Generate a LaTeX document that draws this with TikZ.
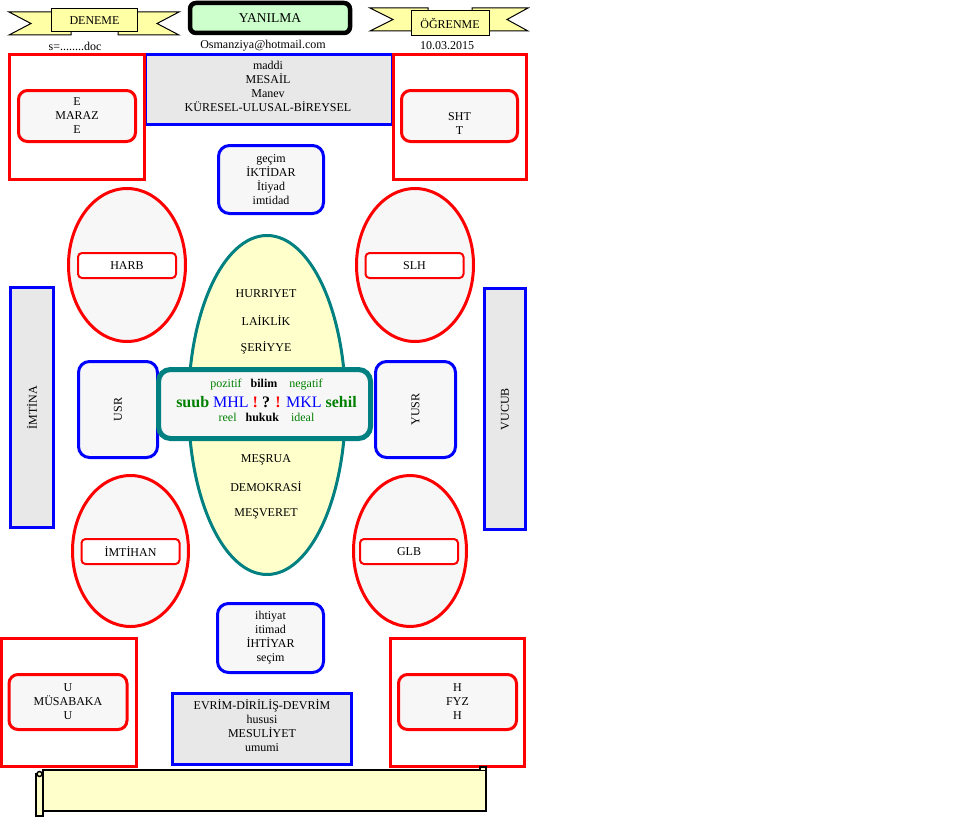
\documentclass[tikz,border=0pt]{standalone}
\usepackage{fontspec}
\setmainfont{Liberation Serif}
\usetikzlibrary{shapes.geometric}
\definecolor{boxgray}{HTML}{F7F7F7}
\definecolor{panelgray}{HTML}{E8E8E8}
\definecolor{paleyellow}{HTML}{FFFFCC}
\definecolor{ribbonyellow}{HTML}{FFFFA6}
\definecolor{palegreen}{HTML}{CCFFCC}
\definecolor{tealline}{HTML}{008080}
\definecolor{darkgreen}{HTML}{008000}

\begin{document}
\begin{tikzpicture}[x=1pt,y=-1pt,
        every node/.style={font=\fontsize{12}{14}\selectfont, inner sep=0pt, align=center},
        ribbon/.style={draw, line width=1pt, fill=ribbonyellow},
        redframe/.style={draw=red, line width=3pt, fill=white},
        redbox/.style={draw=red, line width=3pt, rounded corners=9pt, fill=boxgray},
        bluebox/.style={draw=blue, line width=3pt, rounded corners=11pt, fill=boxgray},
        panel/.style={draw=blue, line width=3pt, fill=panelgray},
        oval/.style={ellipse, draw=red, line width=3pt, fill=boxgray},
        tag/.style={draw=red, line width=2pt, rounded corners=4pt, fill=white,
            minimum width=98pt, minimum height=25pt},
        scroll/.style={draw, line width=1.5pt, fill=paleyellow}
    ]
    \useasboundingbox (0,0) rectangle (960,816);

    % header ribbons
    \draw[ribbon] (9,12) -- (71,12) -- (71,35) -- (9,35) -- (31,23.5) -- cycle;
    \draw[ribbon] (179,12) -- (118,12) -- (118,35) -- (179,35) -- (157,23.5) -- cycle;
    \node[ribbon, minimum width=86pt, minimum height=23pt] (deneme) at (94.5,20.5) {DENEME};

    \draw[ribbon] (370,8) -- (428,8) -- (428,31) -- (370,31) -- (393,19.5) -- cycle;
    \draw[ribbon] (528,8) -- (472,8) -- (472,31) -- (528,31) -- (507,19.5) -- cycle;
    \node[ribbon, minimum width=78pt, minimum height=25pt] (ogrenme) at (450,23.5) {ÖĞRENME};

    \node[draw, line width=4.5pt, rounded corners=6pt, fill=palegreen,
        minimum width=160pt, minimum height=30pt, font=\fontsize{13.5}{15}\selectfont]
        (yanilma) at (270,18) {YANILMA};

    \node (dosya) at (75,46) {s=........doc};
    \node (eposta) at (263,46) {Osmanziya@hotmail.com};
    \node (tarih) at (447,46) {10.03.2015};

    % upper row
    \node[panel, minimum width=247pt, minimum height=70pt] (mesail) at (269,89.5) {};
    \node (mesaillbl) at (268,86) {maddi\\MESAİL\\Manev\\KÜRESEL-ULUSAL-BİREYSEL};
    \node[redframe, minimum width=135pt, minimum height=125pt] (solust) at (77,117) {};
    \node[redbox, minimum width=117pt, minimum height=51pt] (maraz) at (77,116) {E\\MARAZ\\E};
    \node[redframe, minimum width=133pt, minimum height=125pt] (sagust) at (460,117) {};
    \node[redbox, minimum width=116pt, minimum height=51pt] (sht) at (459.5,116) {};
    \node (shtlbl) at (459.5,124) {SHT\\T};

    \node[bluebox, minimum width=105pt, minimum height=68pt] (iktidar) at (271,179.5)
        {geçim\\İKTİDAR\\İtiyad\\imtidad};

    % ovals
    \node[oval, minimum width=117pt, minimum height=153pt] (harbov) at (127,265) {};
    \node[tag] (harb) at (127,265.5) {HARB};
    \node[oval, minimum width=117pt, minimum height=153pt] (slhov) at (415,265) {};
    \node[tag] (slh) at (414.5,265.5) {SLH};
    \node[oval, minimum width=116pt, minimum height=151pt] (imtihanov) at (130.5,551) {};
    \node[tag] (imtihan) at (130.5,551.5) {İMTİHAN};
    \node[oval, minimum width=113pt, minimum height=151pt] (glbov) at (410,551) {};
    \node[tag] (glb) at (409,551.5) {GLB};

    % core
    \node[ellipse, draw=tealline, line width=3pt, fill=paleyellow,
        minimum width=157pt, minimum height=339pt] (core) at (267,405) {};
    \node (hurriyet) at (266,294) {HURRIYET};
    \node (laiklik) at (266,321) {LAİKLİK};
    \node (seriyye) at (266,348) {ŞERİYYE};
    \node (mesrua) at (266,460) {MEŞRUA};
    \node (demokrasi) at (266,487) {DEMOKRASİ};
    \node (mesveret) at (266,514) {MEŞVERET};

    % side boxes
    \node[panel, minimum width=43pt, minimum height=240pt] (imtina) at (32,407.5) {};
    \node[rotate=90] (imtinalbl) at (32,407.5) {İMTİNA};
    \node[panel, minimum width=41pt, minimum height=241pt] (vucub) at (505,409) {};
    \node[rotate=90] (vucublbl) at (505,409) {VUCUB};
    \node[bluebox, minimum width=79pt, minimum height=96pt] (usr) at (118,409.5) {};
    \node[rotate=90] (usrlbl) at (118,409.5) {USR};
    \node[bluebox, minimum width=80pt, minimum height=96pt] (yusr) at (415.5,409.5) {};
    \node[rotate=90] (yusrlbl) at (415.5,409.5) {YUSR};

    \node[draw=tealline, line width=5pt, rounded corners=12pt, fill=boxgray,
        minimum width=212pt, minimum height=69pt] (ilim) at (264.5,404) {};
    \node (satir1) at (266.5,385) {\textcolor{darkgreen}{pozitif}\hspace{9pt}\textbf{bilim}\hspace{12pt}\textcolor{darkgreen}{negatif}};
    \node[font=\fontsize{16}{18}\selectfont] (satir2) at (266.5,402)
        {\textcolor{darkgreen}{\textbf{suub}} \textcolor{blue}{MHL} \textcolor{red}{\textbf{!}} \textbf{?} \textcolor{red}{\textbf{!}} \textcolor{blue}{MKL} \textcolor{darkgreen}{\textbf{sehil}}};
    \node (satir3) at (266.5,417) {\textcolor{darkgreen}{reel}\hspace{9pt}\textbf{hukuk}\hspace{12pt}\textcolor{darkgreen}{ideal}};

    % lower row
    \node[bluebox, minimum width=106pt, minimum height=69pt] (ihtiyar) at (270.5,638)
        {ihtiyat\\itimad\\İHTİYAR\\seçim};
    \node[redframe, minimum width=135pt, minimum height=128pt] (solalt) at (69,702.5) {};
    \node[redbox, minimum width=118pt, minimum height=55pt] (musabaka) at (68,702) {U\\MÜSABAKA\\U};
    \node[redframe, minimum width=134pt, minimum height=128pt] (sagalt) at (457.5,702.5) {};
    \node[redbox, minimum width=118pt, minimum height=55pt] (fyz) at (457.5,702) {H\\FYZ\\H};
    \node[panel, minimum width=179pt, minimum height=71pt] (mesuliyet) at (262,729) {};
    \node (mesuliyetlbl) at (262,725.5) {EVRİM-DİRİLİŞ-DEVRİM\\hususi\\MESULİYET\\umumi};

    % scroll
    \draw[scroll] (43,770) rectangle (486,811);
    \draw[scroll] (36,774) rectangle (43,816);
    \draw[scroll] (39.5,774) circle[radius=2.5];
    \draw[scroll] (480,770) -- (480,767) -- (486,767) -- (486,770);
\end{tikzpicture}
\end{document}
